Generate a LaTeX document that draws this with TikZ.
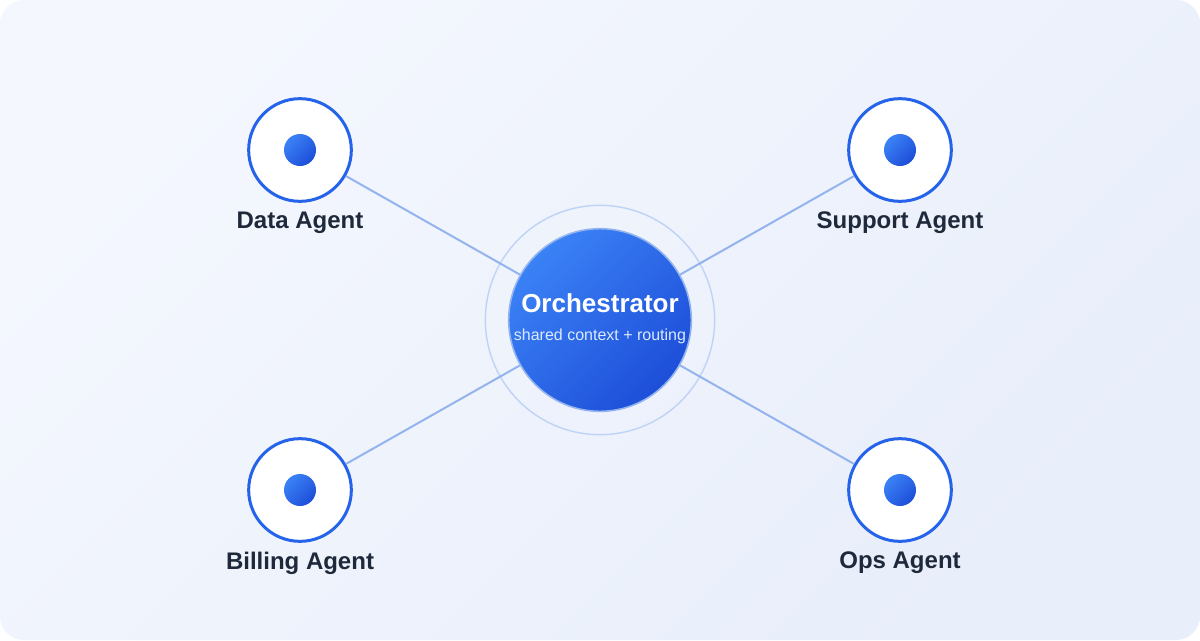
\documentclass[tikz,border=0pt]{standalone}
\usepackage{fontspec}
\setmainfont{Liberation Sans}
\usetikzlibrary{positioning}
\definecolor{bgtop}{HTML}{F4F7FE}
\definecolor{bgbot}{HTML}{E8EEFA}
\definecolor{accent}{HTML}{2563EB}
\definecolor{gradtop}{HTML}{3B82F6}
\definecolor{gradbot}{HTML}{1D4ED8}
\definecolor{linkblue}{HTML}{93B4EE}
\definecolor{ringblue}{HTML}{BFD4F6}
\definecolor{subtext}{HTML}{DBEAFE}
\definecolor{ink}{HTML}{1E293B}

\begin{document}
\begin{tikzpicture}[x=0.75pt,y=-0.75pt,
    agent/.style={circle,draw=accent,line width=2.25pt,fill=white,minimum size=77pt,inner sep=0pt},
    dot/.style={circle,top color=gradtop,bottom color=gradbot,shading angle=45,minimum size=24pt,inner sep=0pt},
    orch/.style={circle,draw=linkblue,line width=1.2pt,top color=gradtop,bottom color=gradbot,
      shading angle=45,minimum size=137pt,inner sep=0pt},
    ring/.style={circle,draw=ringblue,line width=1.1pt,minimum size=172pt,inner sep=0pt},
    link/.style={draw=linkblue,line width=1.5pt},
    lbl/.style={font=\fontsize{18pt}{21pt}\selectfont\bfseries,text=ink,inner sep=0pt},
    otitle/.style={font=\fontsize{19.5pt}{23pt}\selectfont\bfseries,text=white,inner sep=0pt,anchor=base},
    osub/.style={font=\fontsize{12pt}{14pt}\selectfont,text=subtext,inner sep=0pt,anchor=base}]
    \useasboundingbox (0,0) rectangle (1200,640);
    \fill[white] (0,0) rectangle (1200,640);
    \shade[top color=bgtop,bottom color=bgbot,shading angle=45,rounded corners=18pt] (0,0) rectangle (1200,640);
    % hub
    \node[ring] (ring) at (600,320) {};
    \node[orch] (orch) at (600,320) {};
    \node[otitle] (otitle) at ([yshift=6pt]orch.center) {Orchestrator};
    \node[osub] (osub) at ([yshift=-15pt]orch.center) {shared context + routing};
    % agents
    \node[agent] (data) at (300,150) {};
    \node[dot] at (data) {};
    \node[lbl,below=6.5pt of data] (datal) {Data Agent};
    \node[agent] (support) at (900,150) {};
    \node[dot] at (support) {};
    \node[lbl,below=6.5pt of support] (supportl) {Support Agent};
    \node[agent] (billing) at (300,490) {};
    \node[dot] at (billing) {};
    \node[lbl,below=6.5pt of billing] (billingl) {Billing Agent};
    \node[agent] (ops) at (900,490) {};
    \node[dot] at (ops) {};
    \node[lbl,below=6.5pt of ops] (opsl) {Ops Agent};
    % links
    \draw[link] (data) -- (orch);
    \draw[link] (support) -- (orch);
    \draw[link] (billing) -- (orch);
    \draw[link] (ops) -- (orch);
  \end{tikzpicture}
\end{document}
